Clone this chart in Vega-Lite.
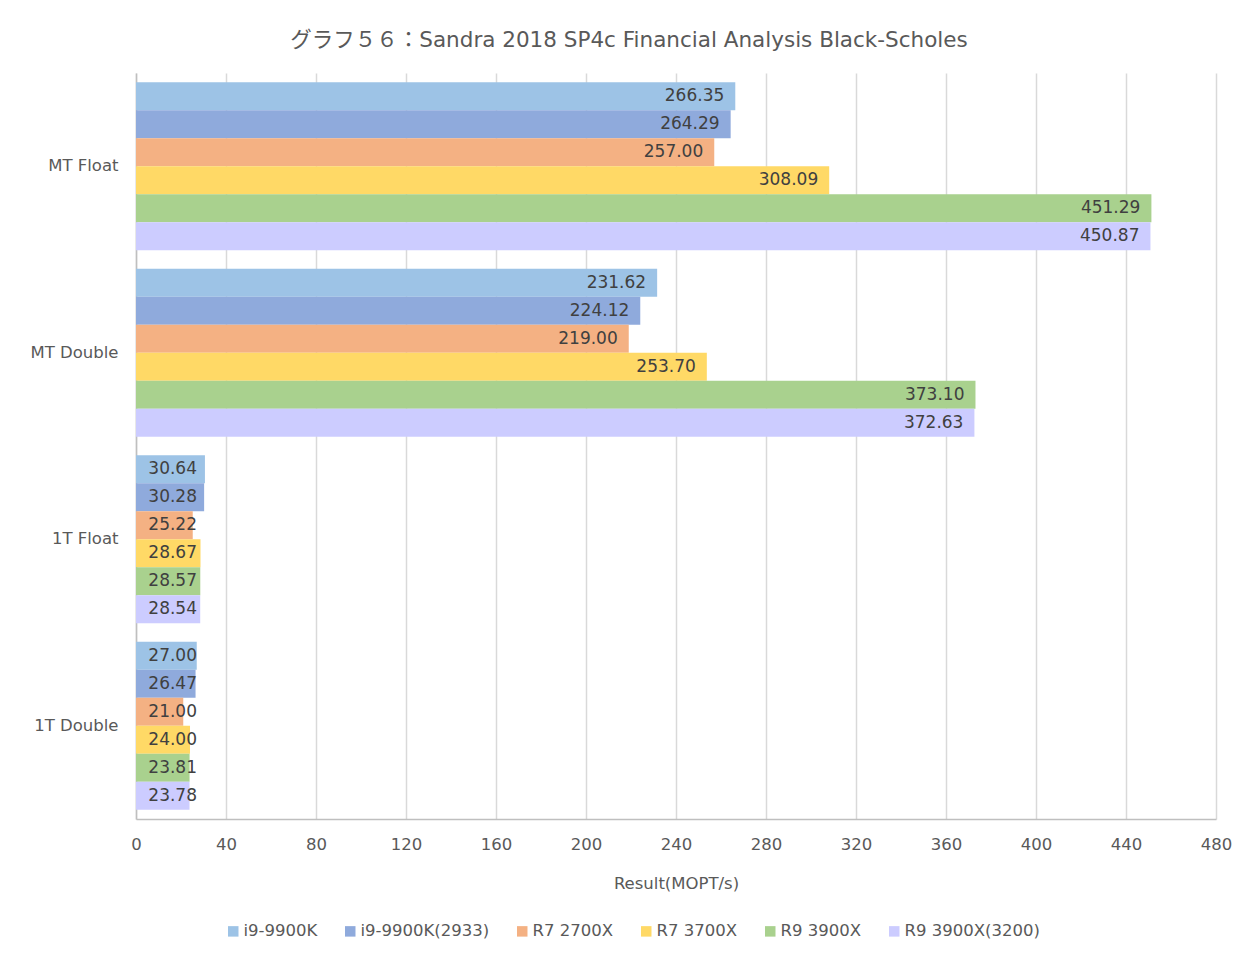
{
  "$schema": "https://vega.github.io/schema/vega-lite/v6.json",
  "autosize": {"type": "none"},
  "padding": {"left": 136, "top": 73, "right": 42, "bottom": 146},
  "width": 1080,
  "height": 746,
  "background": "white",
  "title": {
    "text": "グラフ５６：Sandra 2018 SP4c Financial Analysis Black-Scholes",
    "font": "DejaVu Sans, Noto Sans CJK JP",
    "fontSize": 21.5,
    "fontWeight": "normal",
    "color": "#595959",
    "anchor": "middle",
    "dx": -47,
    "offset": 22
  },
  "config": {
    "font": "DejaVu Sans",
    "view": {"stroke": null}
  },
  "data": {
    "values": [
      {"test": "MT Float", "cpu": "i9-9900K", "value": 266.35},
      {"test": "MT Float", "cpu": "i9-9900K(2933)", "value": 264.29},
      {"test": "MT Float", "cpu": "R7 2700X", "value": 257.00},
      {"test": "MT Float", "cpu": "R7 3700X", "value": 308.09},
      {"test": "MT Float", "cpu": "R9 3900X", "value": 451.29},
      {"test": "MT Float", "cpu": "R9 3900X(3200)", "value": 450.87},
      {"test": "MT Double", "cpu": "i9-9900K", "value": 231.62},
      {"test": "MT Double", "cpu": "i9-9900K(2933)", "value": 224.12},
      {"test": "MT Double", "cpu": "R7 2700X", "value": 219.00},
      {"test": "MT Double", "cpu": "R7 3700X", "value": 253.70},
      {"test": "MT Double", "cpu": "R9 3900X", "value": 373.10},
      {"test": "MT Double", "cpu": "R9 3900X(3200)", "value": 372.63},
      {"test": "1T Float", "cpu": "i9-9900K", "value": 30.64},
      {"test": "1T Float", "cpu": "i9-9900K(2933)", "value": 30.28},
      {"test": "1T Float", "cpu": "R7 2700X", "value": 25.22},
      {"test": "1T Float", "cpu": "R7 3700X", "value": 28.67},
      {"test": "1T Float", "cpu": "R9 3900X", "value": 28.57},
      {"test": "1T Float", "cpu": "R9 3900X(3200)", "value": 28.54},
      {"test": "1T Double", "cpu": "i9-9900K", "value": 27.00},
      {"test": "1T Double", "cpu": "i9-9900K(2933)", "value": 26.47},
      {"test": "1T Double", "cpu": "R7 2700X", "value": 21.00},
      {"test": "1T Double", "cpu": "R7 3700X", "value": 24.00},
      {"test": "1T Double", "cpu": "R9 3900X", "value": 23.81},
      {"test": "1T Double", "cpu": "R9 3900X(3200)", "value": 23.78}
    ]
  },
  "transform": [
    {"calculate": "max(datum.value, 32)", "as": "labelPos"}
  ],
  "encoding": {
    "y": {
      "field": "test",
      "type": "nominal",
      "sort": ["MT Float", "MT Double", "1T Float", "1T Double"],
      "scale": {"paddingInner": 0.1, "paddingOuter": 0.05},
      "axis": {
        "title": null,
        "domain": true,
        "domainColor": "#BFBFBF",
        "domainWidth": 1.5,
        "ticks": false,
        "labelPadding": 18,
        "labelFontSize": 16.5,
        "labelColor": "#595959",
        "labelFontWeight": "normal"
      }
    },
    "yOffset": {
      "field": "cpu",
      "type": "nominal",
      "sort": ["i9-9900K", "i9-9900K(2933)", "R7 2700X", "R7 3700X", "R9 3900X", "R9 3900X(3200)"],
      "scale": {"paddingInner": 0, "paddingOuter": 0}
    }
  },
  "layer": [
    {
      "mark": {"type": "bar"},
      "encoding": {
        "x": {
          "field": "value",
          "type": "quantitative",
          "scale": {"domain": [0, 480], "nice": false},
          "axis": {
            "title": "Result(MOPT/s)",
            "titleFontSize": 16.5,
            "titleFontWeight": "normal",
            "titleColor": "#595959",
            "titlePadding": 23,
            "values": [0, 40, 80, 120, 160, 200, 240, 280, 320, 360, 400, 440, 480],
            "labelFontSize": 16.5,
            "labelColor": "#595959",
            "labelPadding": 17,
            "labelFlush": false,
            "grid": true,
            "gridColor": "#D9D9D9",
            "gridWidth": 1.5,
            "domainColor": "#BFBFBF",
            "domainWidth": 1.5,
            "ticks": false
          }
        },
        "color": {
          "field": "cpu",
          "type": "nominal",
          "sort": ["i9-9900K", "i9-9900K(2933)", "R7 2700X", "R7 3700X", "R9 3900X", "R9 3900X(3200)"],
          "scale": {
            "domain": ["i9-9900K", "i9-9900K(2933)", "R7 2700X", "R7 3700X", "R9 3900X", "R9 3900X(3200)"],
            "range": ["#9DC3E6", "#8FAADC", "#F4B183", "#FFD966", "#A9D18E", "#CCCCFF"]
          },
          "legend": {
            "title": null,
            "orient": "none",
            "direction": "horizontal",
            "columns": 6,
            "legendX": 89,
            "legendY": 850,
            "symbolType": "square",
            "symbolSize": 110,
            "symbolStrokeWidth": 0,
            "labelFontSize": 16.5,
            "labelColor": "#595959",
            "labelOffset": 2,
            "columnPadding": 24
          }
        }
      }
    },
    {
      "mark": {"type": "text", "align": "right", "baseline": "middle", "dx": -11, "fontSize": 17, "color": "#404040"},
      "encoding": {
        "x": {"field": "labelPos", "type": "quantitative"},
        "text": {"field": "value", "type": "quantitative", "format": ".2f"}
      }
    }
  ]
}
